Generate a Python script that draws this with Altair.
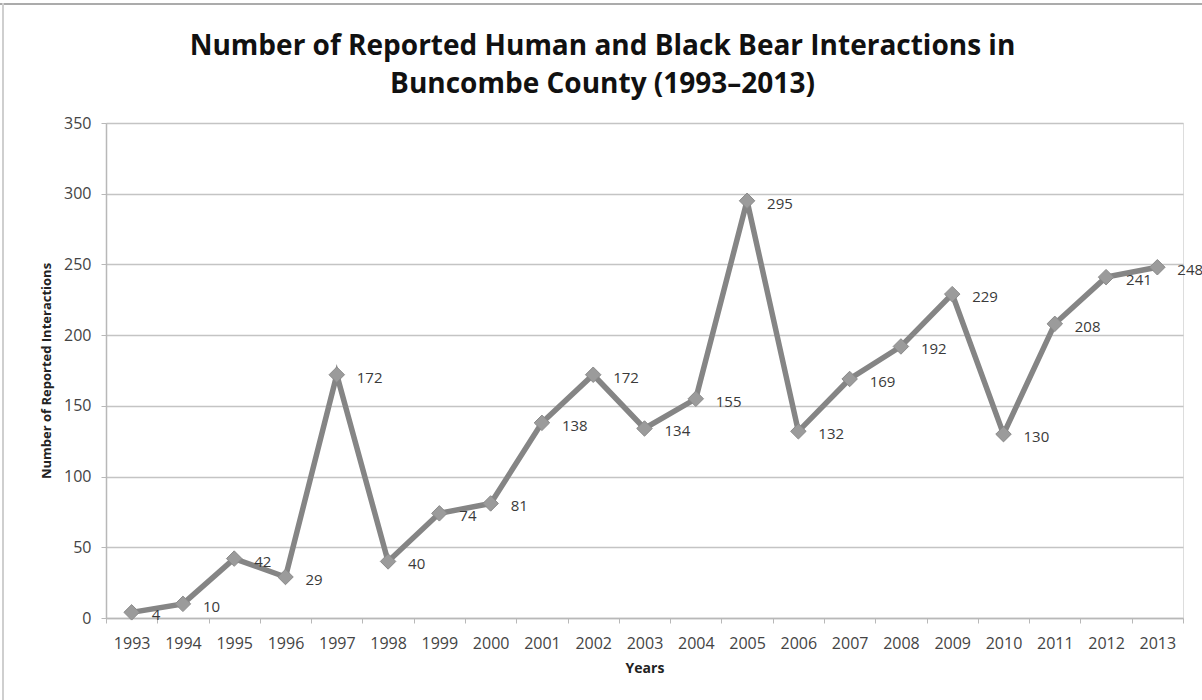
import altair as alt
import pandas as pd

years = [str(y) for y in range(1993, 2014)]
counts = [4, 10, 42, 29, 172, 40, 74, 81, 138, 172, 134, 155, 295, 132, 169, 192, 229, 130, 208, 241, 248]
y_ticks = [0, 50, 100, 150, 200, 250, 300, 350]

df = pd.DataFrame({"Year": years, "Count": counts})

FONT = "Open Sans"
W, H = 1077, 495

x_enc = alt.X(
    "Year:O",
    scale=alt.Scale(type="band", padding=0),
    sort=years,
    axis=alt.Axis(
        title="Years", titleFont=FONT, titleFontSize=14, titleFontWeight="bold",
        titleColor="#222222", titlePadding=10,
        labelFont=FONT, labelFontSize=16, labelColor="#444444", labelAngle=0,
        labelPadding=12, tickBand="extent", tickSize=5, tickColor="#b8b8b8",
        domainColor="#b8b8b8", domainWidth=1.5, grid=False,
    ),
)
y_enc = alt.Y(
    "Count:Q",
    scale=alt.Scale(domain=[0, 350], nice=False),
    axis=alt.Axis(
        values=y_ticks, title="Number of Reported Interactions", titleFont=FONT,
        titleFontSize=13, titleFontWeight="bold", titleColor="#222222", titlePadding=10,
        labelFont=FONT, labelFontSize=16, labelColor="#444444", labelPadding=10,
        tickSize=5, tickColor="#b8b8b8", domainColor="#b8b8b8", domainWidth=1.5,
        grid=True, gridColor="#c4c4c4", gridWidth=1.5,
    ),
)

base = alt.Chart(df).encode(x=x_enc, y=y_enc)

line = base.mark_line(color="#858585", strokeWidth=5.5)
points = base.mark_point(shape="diamond", size=240, filled=True, color="#9b9b9b",
                         stroke="#8a8a8a", strokeWidth=1, opacity=1)
labels = base.mark_text(align="left", baseline="middle", dx=20, dy=3, font=FONT,
                        fontSize=15, color="#3a3a3a").encode(text="Count:Q")

border_top = alt.Chart(df).mark_rule(color="#ababab", strokeWidth=2).encode(
    x=alt.value(-106), x2=alt.value(W + 30), y=alt.value(-119)
)
border_left = alt.Chart(df).mark_rule(color="#cfcfcf", strokeWidth=2).encode(
    x=alt.value(-103), y=alt.value(-120), y2=alt.value(H + 90)
)

chart = alt.layer(border_top, border_left, line, points, labels).properties(
    width=W, height=H,
    title=alt.TitleParams(
        text=["Number of Reported Human and Black Bear Interactions in",
              "Buncombe County (1993\u20132013)"],
        font=FONT, fontSize=28, fontWeight="bold", color="#111111",
        anchor="middle", frame="group", lineHeight=38, dx=-42, offset=-97,
    ),
    autosize=alt.AutoSizeParams(type="none"),
    padding={"left": 106, "top": 123, "right": 19, "bottom": 82},
).configure_view(stroke=None).configure(background="white")

chart.save("out.html", embed_options={"renderer": "svg", "actions": False})
